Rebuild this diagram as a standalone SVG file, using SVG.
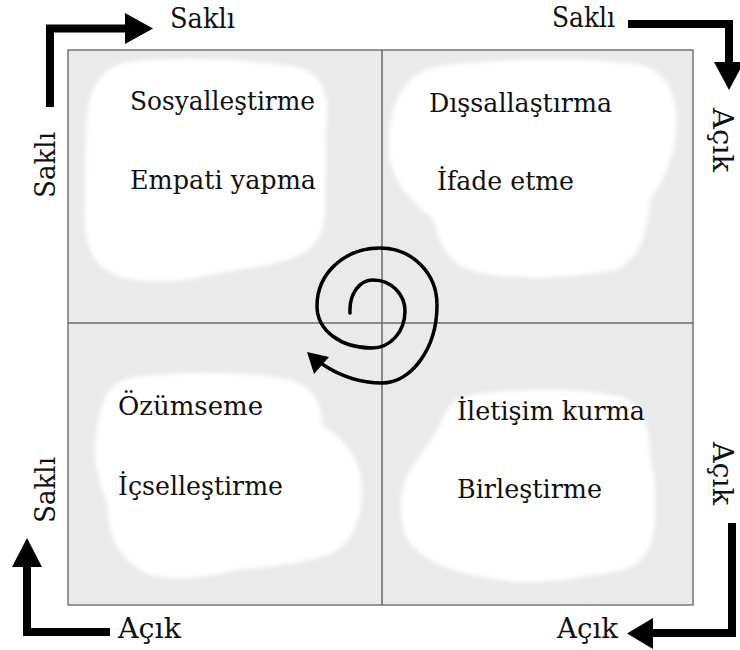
<svg xmlns="http://www.w3.org/2000/svg" width="740" height="650" viewBox="0 0 740 650">
  <style>
    .cloud { fill: #ffffff; filter: url(#soft); }
    .arrow { fill: none; stroke: #000; stroke-width: 8; stroke-linejoin: miter; }
    .head { fill: #000; }
    .divider { stroke: #6a6a6a; stroke-width: 1.5; }
    .t { font-family: "DejaVu Serif", "Liberation Serif", serif; font-size: 26px; fill: #111; }
    .o { font-family: "DejaVu Serif", "Liberation Serif", serif; font-size: 28px; fill: #111; }
  </style>
  <defs>
    <filter id="soft" x="-10%" y="-10%" width="120%" height="120%">
      <feGaussianBlur stdDeviation="2"/>
    </filter>
  </defs>
  <rect width="740" height="650" fill="#ffffff"/>
  <g id="frame">
    <rect x="68" y="50" width="625" height="555" fill="#eaeaea" stroke="#777" stroke-width="1.5"/>
  </g>
  <g id="quadrant-tl">
    <path class="cloud" d="M130,62 C180,55 260,60 300,68 C325,75 330,100 326,125 L325,205 C326,225 320,245 300,255 C270,268 240,268 210,275 C170,285 120,285 100,265 C85,250 84,225 85,200 L86,130 C87,90 100,66 130,62 Z"/>
    <text class="t" x="130" y="110" textLength="185" lengthAdjust="spacingAndGlyphs">Sosyalleştirme</text>
    <text class="t" x="130" y="189" textLength="186" lengthAdjust="spacingAndGlyphs">Empati yapma</text>
  </g>
  <g id="quadrant-tr">
    <path class="cloud" d="M440,66 C500,58 600,58 640,65 C670,72 678,100 676,130 C675,160 660,185 650,200 C648,230 640,260 615,270 C560,280 500,280 470,270 C445,262 440,240 432,218 C410,200 390,180 389,150 C388,110 400,72 440,66 Z"/>
    <text class="t" x="429" y="112" textLength="183" lengthAdjust="spacingAndGlyphs">Dışsallaştırma</text>
    <text class="t" x="437" y="190" textLength="137" lengthAdjust="spacingAndGlyphs">İfade etme</text>
  </g>
  <g id="quadrant-bl">
    <path class="cloud" d="M130,378 C180,370 260,372 290,380 C315,388 322,405 322,425 C345,440 362,460 362,490 C362,530 345,552 318,558 C290,565 260,568 235,570 C200,580 160,582 140,570 C115,555 108,530 108,505 C98,480 92,455 96,435 C100,400 110,382 130,378 Z"/>
    <text class="t" x="118" y="415" textLength="145" lengthAdjust="spacingAndGlyphs">Özümseme</text>
    <text class="t" x="118" y="495" textLength="165" lengthAdjust="spacingAndGlyphs">İçselleştirme</text>
  </g>
  <g id="quadrant-br">
    <path class="cloud" d="M470,395 C520,388 590,388 625,398 C645,408 650,430 650,455 C655,480 658,510 652,540 C645,565 625,572 600,574 C560,582 520,585 490,578 C450,572 418,560 405,535 C398,510 400,485 410,470 C420,455 432,440 440,425 C448,405 455,397 470,395 Z"/>
    <text class="t" x="457" y="420" textLength="188" lengthAdjust="spacingAndGlyphs">İletişim kurma</text>
    <text class="t" x="457" y="498" textLength="145" lengthAdjust="spacingAndGlyphs">Birleştirme</text>
  </g>
  <g id="dividers">
    <line class="divider" x1="382" y1="50" x2="382" y2="605"/>
    <line class="divider" x1="68" y1="323" x2="693" y2="323"/>
  </g>
  <g id="connectors">
    <g id="spiral">
      <path d="M350,313 C349,293 360,280 373,280 C392,280 405,295 405,311 C405,332 390,348 372,348 C340,348 317,330 317,306 C317,273 345,248 380,248 C412,248 437,273 437,305 C437,350 410,383 382,383 C360,383 340,376 322,364" fill="none" stroke="#000" stroke-width="3.5" stroke-linecap="round"/>
      <polygon class="head" points="307,352 329,357 314,374"/>
    </g>
    <g id="arrow-tl">
      <polyline class="arrow" points="50,107 50,28.5 127,28.5"/>
      <polygon class="head" points="125,13 153,28.5 125,44"/>
    </g>
    <g id="arrow-tr">
      <polyline class="arrow" points="628,24 729,24 729,63"/>
      <polygon class="head" points="714,62 744,62 729,90"/>
    </g>
    <g id="arrow-bl">
      <polyline class="arrow" points="110,632 27,632 27,565"/>
      <polygon class="head" points="12,567 42,567 27,538"/>
    </g>
    <g id="arrow-br">
      <polyline class="arrow" points="732,523 732,633 651,633"/>
      <polygon class="head" points="653,618 653,649 627,633.5"/>
    </g>
  </g>
  <g id="labels">
    <text class="o" x="170" y="28" textLength="65" lengthAdjust="spacingAndGlyphs">Saklı</text>
    <text class="o" x="552" y="27" textLength="63" lengthAdjust="spacingAndGlyphs">Saklı</text>
    <text class="o" transform="translate(713,108) rotate(90)" textLength="64" lengthAdjust="spacingAndGlyphs">Açık</text>
    <text class="o" transform="translate(713,442) rotate(90)" textLength="63" lengthAdjust="spacingAndGlyphs">Açık</text>
    <text class="o" transform="translate(55,198) rotate(-90)" textLength="66" lengthAdjust="spacingAndGlyphs">Saklı</text>
    <text class="o" transform="translate(55,523) rotate(-90)" textLength="66" lengthAdjust="spacingAndGlyphs">Saklı</text>
    <text class="o" x="118" y="638" textLength="63" lengthAdjust="spacingAndGlyphs">Açık</text>
    <text class="o" x="557" y="638" textLength="61" lengthAdjust="spacingAndGlyphs">Açık</text>
  </g>
</svg>
